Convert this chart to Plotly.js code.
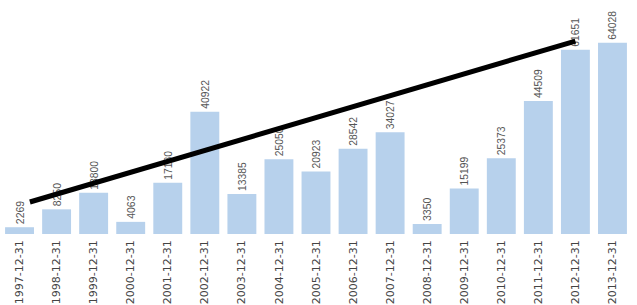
<!DOCTYPE html>
<html>
<head>
<meta charset="utf-8">
<script src="https://cdn.plot.ly/plotly-3.0.1.min.js"></script>
<style>html,body{margin:0;padding:0;background:#fff;}#chart{width:637px;height:305px;}</style>
</head>
<body>
<div id="chart"></div>
<script>
const categories = ["1997-12-31","1998-12-31","1999-12-31","2000-12-31","2001-12-31","2002-12-31","2003-12-31","2004-12-31","2005-12-31","2006-12-31","2007-12-31","2008-12-31","2009-12-31","2010-12-31","2011-12-31","2012-12-31","2013-12-31"];
const values = [2269, 8250, 13800, 4063, 17180, 40922, 13385, 25050, 20923, 28542, 34027, 3350, 15199, 25373, 44509, 61651, 64028];
const trendX = [0.28, 15];
const trendY = [10700, 64570];

const bars = {
  type: 'bar',
  x: categories,
  y: values,
  marker: {color: '#b7d1ec'},
  text: values.map(String),
  textposition: 'outside',
  textangle: -90,
  cliponaxis: false,
  textfont: {family: 'Liberation Sans, Arial, sans-serif', size: 10.5, color: '#555'},
  hoverinfo: 'none'
};
const trend = {
  type: 'scatter',
  mode: 'lines',
  x: trendX,
  y: trendY,
  xaxis: 'x2',
  line: {color: '#000', width: 5},
  hoverinfo: 'none'
};
const layout = {
  width: 637, height: 305,
  margin: {l: 1, r: 6, t: 0, b: 71},
  paper_bgcolor: '#fff', plot_bgcolor: '#fff',
  showlegend: false,
  bargap: 0.22,
  xaxis: {
    type: 'category', range: [-0.5, 16.5], tickangle: -90,
    showgrid: false, zeroline: false, showline: false, ticks: '',
    ticklabelstandoff: 3,
    tickfont: {family: 'DejaVu Sans, sans-serif', size: 11, color: '#444'}
  },
  xaxis2: {overlaying: 'x', range: [-0.5, 16.5], visible: false},
  yaxis: {range: [0, 78300], visible: false, showgrid: false, zeroline: false}
};
Plotly.newPlot('chart', [bars, trend], layout, {displayModeBar: false, staticPlot: true});
</script>
</body>
</html>
